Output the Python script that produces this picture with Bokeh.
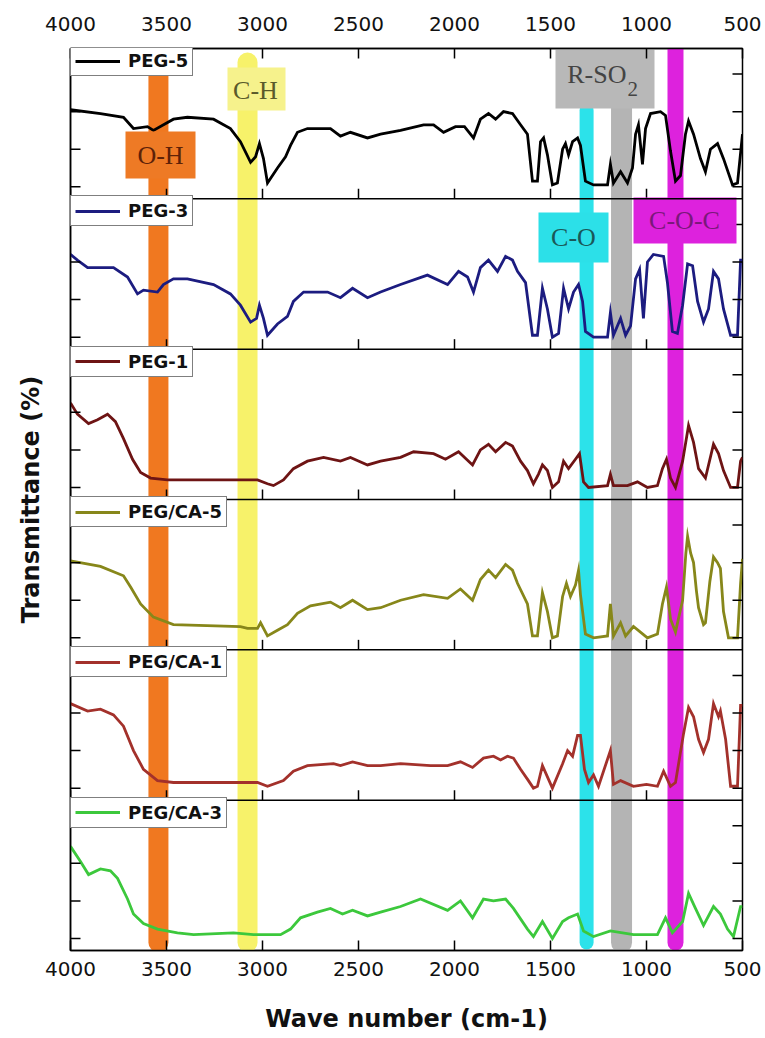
from bokeh.plotting import figure
from bokeh.models import (Range1d, LinearAxis, FixedTicker, Span, Legend,
                          LegendItem, ColumnDataSource)
from bokeh.core.properties import value
from bokeh.embed import file_html
from bokeh.resources import INLINE

# ---------------- data ----------------
x_ticks = [4000, 3500, 3000, 2500, 2000, 1500, 1000, 500]
x_tick_labels = ["4000", "3500", "3000", "2500", "2000", "1500", "1000", "500"]

series_names = ["PEG-5", "PEG-3", "PEG-1", "PEG/CA-5", "PEG/CA-1", "PEG/CA-3"]
series_colors = ["#000000", "#1C1C80", "#6E1414", "#87871A", "#A3312B", "#3CC83C"]

wn_peg5 = [4000, 3844, 3724, 3672, 3599, 3568, 3464, 3391, 3255, 3167, 3115, 3062, 3036,
           3016, 2995, 2974, 2922, 2880, 2854, 2818, 2766, 2646, 2594, 2542, 2453, 2385,
           2281, 2161, 2109, 2057, 1995, 1948, 1901, 1865, 1823, 1786, 1745, 1698, 1656,
           1620, 1594, 1568, 1552, 1536, 1516, 1490, 1464, 1437, 1422, 1406, 1385, 1359,
           1344, 1318, 1276, 1203, 1188, 1172, 1135, 1099, 1073, 1057, 1042, 1021, 1005,
           979, 927, 901, 875, 849, 823, 797, 781, 755, 719, 693, 667, 630, 599, 552, 526, 500]
t_peg5 = [41, 39, 37, 31, 32, 30, 36, 37, 36, 31, 24, 13, 16,
          23, 15, 2, 10, 16, 22, 29, 31, 31, 27, 29, 26, 28,
          30, 33, 33, 29, 32, 32, 26, 36, 39, 36, 40, 39, 33,
          28, 3, 3, 24, 26, 17, 1, 2, 20, 23, 17, 24, 26,
          22, 3, 1, 1, 12, 2, 8, 2, 10, 28, 33, 12, 31,
          39, 40, 38, 19, 3, 6, 28, 35, 28, 15, 8, 20, 23, 15, 1, 2, 28]

wn_peg3 = [4000, 3964, 3911, 3776, 3703, 3651, 3620, 3547, 3516, 3464, 3391, 3255, 3167,
           3115, 3062, 3031, 3016, 2995, 2974, 2922, 2870, 2839, 2786, 2661, 2594, 2531,
           2453, 2385, 2281, 2141, 2036, 1979, 1932, 1901, 1865, 1823, 1776, 1734, 1698,
           1672, 1630, 1594, 1568, 1542, 1516, 1490, 1458, 1432, 1406, 1380, 1354, 1333,
           1318, 1276, 1203, 1188, 1172, 1135, 1109, 1083, 1057, 1036, 1016, 995, 964, 911,
           891, 865, 839, 812, 786, 760, 734, 703, 677, 651, 625, 599, 562, 526, 510, 500]
t_peg3 = [44, 41, 37, 37, 32, 23, 25, 24, 28, 31, 31, 28, 23,
          17, 8, 10, 17, 10, 1, 7, 11, 19, 24, 24, 21, 26,
          21, 24, 28, 33, 28, 35, 32, 24, 37, 41, 35, 43, 41,
          35, 29, 1, 1, 26, 15, 0, 2, 26, 15, 24, 28, 19,
          3, 0, 0, 13, 1, 10, 1, 6, 31, 36, 10, 40, 44, 43,
          29, 3, 2, 17, 39, 38, 19, 8, 15, 35, 31, 15, 1, 1, 41, 41]

wn_peg1 = [4000, 3964, 3906, 3859, 3807, 3766, 3724, 3677, 3635, 3583, 3495, 3151, 3026,
           2974, 2943, 2891, 2839, 2766, 2682, 2594, 2542, 2453, 2385, 2281, 2213, 2109,
           2047, 1979, 1906, 1865, 1823, 1786, 1734, 1698, 1656, 1620, 1589, 1563, 1542,
           1516, 1490, 1458, 1432, 1406, 1370, 1349, 1328, 1302, 1203, 1188, 1172, 1099,
           1047, 995, 943, 917, 896, 875, 849, 812, 781, 755, 729, 693, 651, 625, 599, 562,
           526, 510, 500]
t_peg1 = [45, 39, 34, 36, 39, 35, 26, 15, 8, 5, 4, 4, 4,
          2, 1, 4, 10, 14, 16, 14, 16, 12, 14, 16, 19, 18,
          15, 19, 12, 20, 23, 19, 24, 22, 14, 9, 2, 7, 12,
          9, 0, 3, 14, 10, 15, 18, 3, 0, 1, 7, 1, 1,
          3, 0, 1, 10, 15, 5, 0, 14, 33, 24, 10, 5, 23, 18, 9, 0,
          0, 14, 16]

wn_pegca5 = [4000, 3844, 3724, 3687, 3635, 3568, 3464, 3115, 3078, 3026, 3010, 2974, 2922,
             2870, 2818, 2750, 2646, 2594, 2531, 2453, 2385, 2281, 2161, 2036, 1969, 1906,
             1865, 1823, 1786, 1734, 1698, 1672, 1620, 1594, 1568, 1542, 1516, 1490, 1464,
             1437, 1417, 1396, 1370, 1354, 1344, 1318, 1276, 1203, 1188, 1172, 1135, 1109,
             1068, 995, 943, 917, 896, 875, 849, 812, 795, 786, 770, 755, 740, 729, 703, 693,
             670, 651, 630, 615, 599, 573, 526, 510, 500]
t_pegca5 = [41, 38, 33, 27, 18, 11, 7, 6, 5, 5, 8, 1, 4,
            7, 13, 17, 19, 16, 20, 15, 16, 20, 23, 21, 26, 20,
            31, 36, 32, 39, 36, 29, 18, 1, 1, 24, 14, 0, 1,
            22, 29, 22, 28, 36, 23, 2, 0, 1, 18, 1, 8, 1,
            6, 0, 2, 18, 27, 10, 3, 20, 45, 54, 45, 40, 25, 16, 7, 8,
            30, 43, 40, 37, 14, 0, 0, 29, 42]

wn_pegca1 = [4000, 3911, 3844, 3776, 3724, 3672, 3620, 3547, 3464, 3100, 3026, 2974, 2891,
             2839, 2766, 2630, 2594, 2531, 2453, 2385, 2281, 2125, 2036, 1969, 1906, 1849,
             1797, 1760, 1724, 1693, 1656, 1615, 1589, 1568, 1542, 1490, 1437, 1411, 1385,
             1359, 1344, 1323, 1302, 1276, 1250, 1188, 1172, 1135, 1068, 1000, 943, 911, 875,
             849, 807, 781, 755, 729, 703, 677, 651, 625, 615, 588, 562, 526, 510, 500]
t_pegca1 = [45, 41, 42, 39, 33, 20, 10, 4, 3, 3, 3, 1, 4,
            9, 12, 13, 12, 14, 12, 12, 13, 12, 12, 14, 11, 16,
            17, 15, 17, 16, 10, 4, 0, 1, 12, 0, 13, 20, 17,
            28, 28, 10, 3, 7, 1, 20, 2, 4, 1, 2, 1, 9, 1,
            3, 29, 43, 38, 26, 19, 26, 45, 38, 41, 26, 1, 1, 44, 44]

wn_pegca3 = [4000, 3948, 3906, 3844, 3792, 3755, 3703, 3672, 3620, 3547, 3443, 3359, 3151,
             3047, 2906, 2854, 2802, 2714, 2646, 2583, 2531, 2453, 2385, 2281, 2177, 2036,
             1969, 1906, 1849, 1797, 1734, 1693, 1620, 1589, 1542, 1490, 1437, 1406, 1359,
             1328, 1276, 1188, 1068, 943, 901, 865, 812, 781, 745, 703, 651, 615, 578, 547,
             510, 500]
t_pegca3 = [49, 41, 34, 37, 36, 32, 21, 13, 8, 5, 3, 2, 3,
            2, 2, 5, 11, 14, 16, 13, 15, 12, 14, 17, 21, 15,
            20, 11, 21, 20, 21, 16, 5, 1, 9, 0, 9, 11, 13,
            4, 1, 4, 2, 2, 11, 3, 9, 24, 16, 7, 17, 13, 5, 1,
            17, 17]

series_wn = [wn_peg5, wn_peg3, wn_peg1, wn_pegca5, wn_pegca1, wn_pegca3]
series_t = [t_peg5, t_peg3, t_peg1, t_pegca5, t_pegca1, t_pegca3]

band_names = ["O-H", "C-H", "C-O", "R-SO2", "C-O-C"]
band_centers = [3542, 3078, 1312, 1130, 849]

# ---------------- layout constants ----------------
W, H = 765, 1038
ML, MR, MT, MB = 70, 23, 48, 88
FW, FH = W - ML - MR, H - MT - MB
NP = len(series_names)
PANEL = 80.0            # y units per panel
BASE = 6.4              # lowest tick above panel bottom
YMAX = PANEL * NP
PXU = FH / YMAX         # px per y unit
XPU = FW / 3500.0       # px per wavenumber
TICK = 10               # tick length, px

p = figure(width=W, height=H, x_range=Range1d(4000, 500), y_range=Range1d(0, YMAX),
           output_backend="svg", toolbar_location=None,
           min_border_left=ML, min_border_right=MR, min_border_top=MT, min_border_bottom=MB)
p.grid.visible = False
p.outline_line_color = "black"
p.outline_line_width = 1.5
p.background_fill_color = "white"
p.border_fill_color = "white"


def style_x(ax):
    ax.ticker = FixedTicker(ticks=x_ticks)
    ax.major_label_overrides = {t: l for t, l in zip(x_ticks, x_tick_labels)}
    ax.major_tick_in = TICK
    ax.major_tick_out = 0
    ax.minor_tick_in = 0
    ax.minor_tick_out = 0
    ax.axis_line_width = 1.5
    ax.major_tick_line_width = 1.5
    ax.major_label_text_font = "DejaVu Sans"
    ax.major_label_text_font_size = "20px"
    ax.major_label_text_color = "#111111"


bx = p.xaxis[0]
style_x(bx)
bx.major_label_standoff = 11
bx.axis_label = "Wave number (cm-1)"
bx.axis_label_text_font = "DejaVu Sans"
bx.axis_label_text_font_style = "bold"
bx.axis_label_text_font_size = "24px"
bx.axis_label_text_color = "#111111"
bx.axis_label_standoff = 26

tx = LinearAxis()
style_x(tx)
tx.major_label_standoff = 18
p.add_layout(tx, "above")

ly = p.yaxis[0]
ly.ticker = FixedTicker(ticks=[])
ly.major_tick_in = 0
ly.major_tick_out = 0
ly.minor_tick_in = 0
ly.minor_tick_out = 0
ly.axis_line_width = 1.5
ly.axis_label = "Transmittance (%)"
ly.axis_label_text_font = "DejaVu Sans"
ly.axis_label_text_font_style = "bold"
ly.axis_label_text_font_size = "24px"
ly.axis_label_text_color = "#111111"
ly.axis_label_standoff = 26

# ---------------- bands ----------------
band_colors = ["#F07820", "#F7F26A", "#2CE2EA", "#B4B4B4", "#DD22DD"]
band_width_px = [20, 20, 14, 21, 16]
band_top = [YMAX + 10, (FH - 14) / PXU, (FH - 62) / PXU, YMAX + 10, YMAX + 10]
band_bottom = [8 / PXU] * 5
band_src = ColumnDataSource(dict(x=band_centers, y0=band_bottom, y1=band_top,
                                 c=band_colors, w=band_width_px))
p.segment(x0="x", y0="y0", x1="x", y1="y1", line_color="c", line_width="w",
          line_cap="round", source=band_src)

# ---------------- curves ----------------
renderers = []
for k in range(NP):
    off = (NP - 1 - k) * PANEL + BASE
    ys = [off + v for v in series_t[k]]
    r = p.line(series_wn[k], ys, line_color=series_colors[k], line_width=2.8,
               line_join="miter")
    renderers.append(r)

# ---------------- panel separators and ticks ----------------
for j in range(1, NP):
    p.add_layout(Span(location=j * PANEL, dimension="width", line_color="black",
                      line_width=1.5))
sep_x, sep_y0, sep_y1 = [], [], []
for j in range(1, NP):
    for t in x_ticks:
        sep_x.append(t)
        sep_y0.append(j * PANEL)
        sep_y1.append(j * PANEL + TICK / PXU)
p.segment(x0=sep_x, y0=sep_y0, x1=sep_x, y1=sep_y1, line_color="black", line_width=1.5)

# y ticks on both sides of every panel (inward, unlabeled)
y_ticks = [k * PANEL + BASE + o for k in range(NP) for o in (0, 20, 40, 60)]
yt_x0 = [4000] * len(y_ticks) + [500] * len(y_ticks)
yt_x1 = [4000 - TICK / XPU] * len(y_ticks) + [500 + TICK / XPU] * len(y_ticks)
p.segment(x0=yt_x0, y0=y_ticks + y_ticks, x1=yt_x1, y1=y_ticks + y_ticks,
          line_color="black", line_width=1.5)


# ---------------- band label boxes ----------------
def xd(px):
    return 4000 - (px - ML) / XPU


def yd(py):
    return (MT + FH - py) / PXU


box_px = {  # left, right, top, bottom in page pixels
    "O-H": (125, 195, 131, 178),
    "C-H": (227, 285, 67, 110),
    "R-SO2": (555, 654, 40, 108),
    "C-O": (538, 608, 212, 262),
    "C-O-C": (633, 736, 197, 243),
}
box_fill = {"O-H": "#EE7A25", "C-H": "#F6F28C", "R-SO2": "#B8B8B8",
            "C-O": "#2CE0E8", "C-O-C": "#DD22DD"}
box_text_color = {"O-H": "#5E2208", "C-H": "#5A5A2A", "R-SO2": "#444444",
                  "C-O": "#1A5858", "C-O-C": "#7A187A"}
names = list(box_px.keys())
p.quad(left=[xd(box_px[n][0]) for n in names], right=[xd(box_px[n][1]) for n in names],
       top=[yd(box_px[n][2]) for n in names], bottom=[yd(box_px[n][3]) for n in names],
       fill_color=[box_fill[n] for n in names], line_color=None)

txt_names = ["O-H", "C-H", "C-O", "C-O-C"]
txt_pos = {"O-H": (160, 155), "C-H": (255, 90), "C-O": (573, 237), "C-O-C": (684, 220)}
p.text(x=[xd(txt_pos[n][0]) for n in txt_names], y=[yd(txt_pos[n][1]) for n in txt_names],
       text=txt_names, text_color=[box_text_color[n] for n in txt_names],
       text_font=value("Liberation Serif"), text_font_size="26px",
       text_align="center", text_baseline="middle")
p.text(x=[xd(626)], y=[yd(74)], text=["R-SO"], text_color=box_text_color["R-SO2"],
       text_font=value("Liberation Serif"), text_font_size="26px",
       text_align="right", text_baseline="middle")
p.text(x=[xd(627)], y=[yd(88)], text=["2"], text_color=box_text_color["R-SO2"],
       text_font=value("Liberation Serif"), text_font_size="21px",
       text_align="left", text_baseline="middle")

# ---------------- legends (one per panel) ----------------
LEG_H = 28
for k in range(NP):
    top_up = FH - k * FH / NP
    leg = Legend(items=[LegendItem(label=series_names[k], renderers=[renderers[k]])],
                 location=(0, top_up - LEG_H), border_line_color="black",
                 border_line_width=1.5, background_fill_color="white",
                 background_fill_alpha=1.0, padding=4, margin=0, spacing=0,
                 glyph_width=45, glyph_height=20, label_height=20, label_standoff=8,
                 label_text_font="DejaVu Sans", label_text_font_style="bold",
                 label_text_font_size="18px", label_text_color="#111111")
    p.add_layout(leg)

open("out.html", "w").write(file_html(p, INLINE))
